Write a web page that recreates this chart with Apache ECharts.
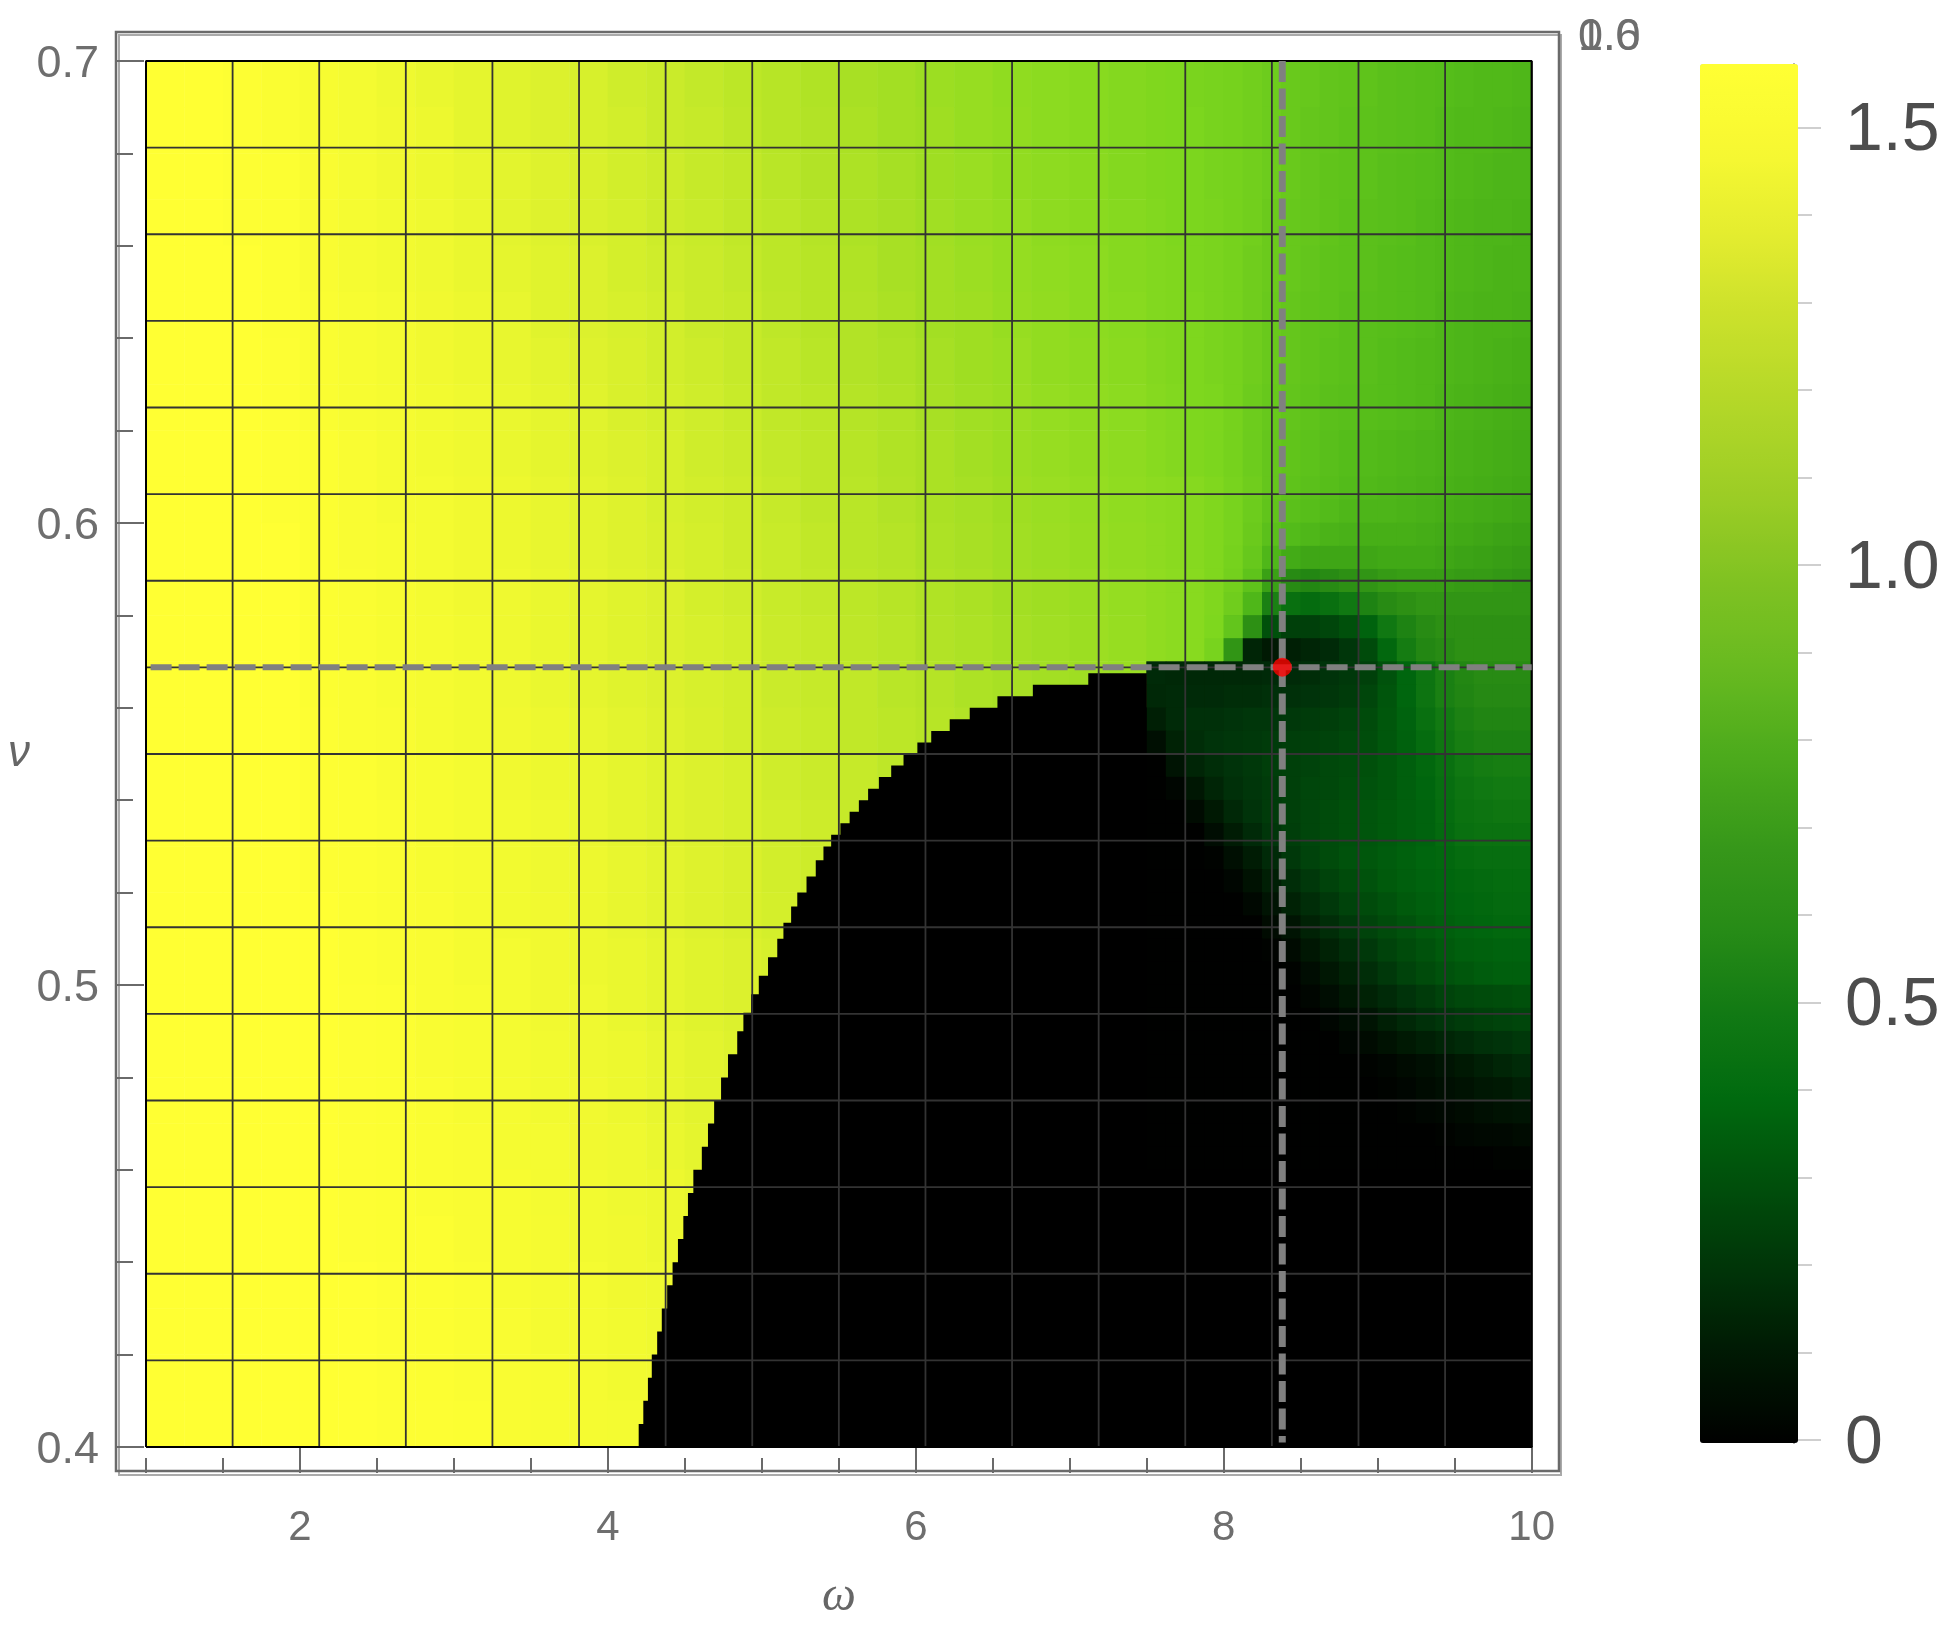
<!DOCTYPE html>
<html><head><meta charset="utf-8">
<style>html,body{margin:0;padding:0;background:#fff}#c{width:1941px;height:1625px}</style>
<script src="https://cdn.jsdelivr.net/npm/echarts@6/dist/echarts.min.js"></script>
</head><body><div id="c"></div>
<script>
// cell centres of the sampled field
const omegaCells = [1.125,1.375,1.625,1.875,2.125,2.375,2.625,2.875,3.125,3.375,3.625,3.875,4.125,4.375,4.625,4.875,5.125,5.375,5.625,5.875,6.125,6.375,6.625,6.875,7.125,7.375,7.625,7.875,8.125,8.375,8.625,8.875,9.125,9.375,9.625,9.875];
const nuCells = [0.695,0.685,0.675,0.665,0.655,0.645,0.635,0.625,0.615,0.605,0.595,0.585,0.575,0.565,0.555,0.545,0.535,0.525,0.515,0.505,0.495,0.485,0.475,0.465,0.455,0.445,0.435,0.425,0.415,0.405];
// field values x100, one row per nuCells entry (top to bottom)
const fieldRows = [
[157,157,156,154,152,150,147,145,143,141,139,137,134,132,129,126,124,121,118,116,113,111,108,106,104,102,99,97,94,91,88,86,84,82,79,77],
[157,157,156,154,152,150,148,146,143,141,139,137,135,132,130,127,124,122,119,116,114,111,109,106,104,102,99,97,94,90,87,85,83,81,78,76],
[157,157,156,155,153,151,148,146,144,142,140,138,135,133,130,128,125,122,120,117,114,112,109,107,105,102,100,97,94,90,87,84,82,80,77,75],
[157,157,156,155,153,151,149,147,145,142,140,138,136,133,131,128,126,123,120,118,115,112,110,107,105,103,100,97,93,89,86,83,81,79,76,74],
[157,157,157,155,153,151,149,147,145,143,141,139,136,134,132,129,126,124,121,118,116,113,110,108,106,103,101,98,93,89,85,82,80,78,75,73],
[157,157,157,155,154,152,150,148,146,144,141,139,137,135,132,130,127,124,122,119,116,114,111,109,106,104,102,98,93,88,84,81,79,77,74,72],
[157,157,157,156,154,152,150,148,146,144,142,140,138,135,133,130,128,125,122,120,117,114,112,109,107,105,103,99,93,88,84,80,78,76,73,71],
[157,157,157,156,154,152,151,149,147,145,143,141,138,136,134,131,128,126,123,121,118,115,113,110,108,106,104,99,93,87,83,80,77,75,72,70],
[157,157,157,156,155,153,151,149,147,145,143,141,139,137,134,132,129,127,124,121,119,116,113,111,109,107,104,100,94,87,83,79,77,74,72,70],
[157,157,157,156,155,153,151,150,148,146,144,142,140,137,135,133,130,127,125,122,119,117,114,112,110,108,105,101,95,86,80,77,75,73,71,69],
[157,157,157,157,155,153,152,150,148,146,144,142,140,138,136,133,131,128,125,123,120,118,115,113,111,109,106,102,96,75,66,67,68,70,68,66],
[157,157,157,157,155,154,152,150,148,147,145,143,141,139,136,134,131,129,126,124,121,119,116,114,112,110,107,104,98,42,42,50,60,63,64,63],
[157,157,157,157,155,154,152,151,149,147,145,143,141,139,137,135,132,130,127,125,122,120,117,115,113,111,108,100,62,14,22,32,46,56,60,62],
[157,157,157,157,155,154,152,151,149,147,145,143,141,139,137,135,132,130,128,125,123,120,118,116,114,112,16,16,16,16,18,26,40,52,58,58],
[157,157,157,157,156,154,153,151,149,148,146,144,142,140,138,135,133,131,128,126,124,122,120,118,0,4,14,18,20,22,25,30,38,46,52,54],
[157,157,157,157,156,155,153,152,150,148,146,145,143,141,139,137,134,132,130,127,125,123,0,0,0,0,6,14,18,22,26,30,36,42,48,50],
[157,157,157,157,156,155,154,152,150,149,147,145,143,141,139,137,135,133,130,128,126,0,0,0,0,0,2,8,14,20,26,30,34,38,42,44],
[157,157,157,157,156,155,154,152,151,149,147,146,144,142,140,138,135,133,131,129,0,0,0,0,0,0,0,3,8,15,22,28,33,36,40,42],
[157,157,157,157,157,155,154,153,151,149,148,146,144,142,140,138,136,134,132,0,0,0,0,0,0,0,0,0,3,8,14,22,30,34,38,40],
[157,157,157,157,157,155,154,153,151,150,148,146,145,143,141,139,137,135,133,0,0,0,0,0,0,0,0,0,0,2,8,14,22,28,33,36],
[157,157,157,157,157,156,155,153,152,150,148,147,145,143,141,139,137,135,0,0,0,0,0,0,0,0,0,0,0,0,2,7,14,20,26,30],
[157,157,157,157,157,156,155,153,152,150,149,147,146,144,142,140,138,136,0,0,0,0,0,0,0,0,0,0,0,0,0,1,6,12,18,22],
[157,157,157,157,157,156,155,154,152,151,149,148,146,144,142,140,138,0,0,0,0,0,0,0,0,0,0,0,0,0,0,0,0,4,9,14],
[157,157,157,157,157,156,155,154,153,151,150,148,147,145,143,141,139,0,0,0,0,0,0,0,0,0,0,0,0,0,0,0,0,0,0,4],
[157,157,157,157,157,156,155,154,153,152,150,149,147,146,144,142,140,0,0,0,0,0,0,0,0,0,0,0,0,0,0,0,0,0,0,0],
[157,157,157,157,157,156,155,155,153,152,151,149,148,146,144,142,0,0,0,0,0,0,0,0,0,0,0,0,0,0,0,0,0,0,0,0],
[157,157,157,157,157,157,156,155,154,152,151,150,148,147,145,143,0,0,0,0,0,0,0,0,0,0,0,0,0,0,0,0,0,0,0,0],
[157,157,157,157,157,157,156,155,154,153,151,150,149,147,145,143,0,0,0,0,0,0,0,0,0,0,0,0,0,0,0,0,0,0,0,0],
[157,157,157,157,157,157,156,155,154,153,152,151,149,148,146,144,0,0,0,0,0,0,0,0,0,0,0,0,0,0,0,0,0,0,0,0],
[157,157,157,157,157,157,156,156,155,153,152,151,150,148,146,144,0,0,0,0,0,0,0,0,0,0,0,0,0,0,0,0,0,0,0,0]
];
// finer reading of the right-hand part, omega 7.5..10
const omegaFine = [7.5625,7.6875,7.8125,7.9375,8.0625,8.1875,8.3125,8.4375,8.5625,8.6875,8.8125,8.9375,9.0625,9.1875,9.3125,9.4375,9.5625,9.6875,9.8125,9.9375];
const nuFineTop = [0.695,0.685,0.675,0.665,0.655,0.645,0.635,0.625,0.615];
const fineTopRows = [
[100,99,97,96,95,93,91,89,88,86,85,84,82,81,80,79,78,77,77,76],
[100,99,98,96,95,93,91,89,87,86,84,83,82,81,80,78,77,77,76,75],
[100,99,98,96,95,93,91,89,87,85,84,83,81,80,79,78,77,76,75,75],
[101,99,98,97,95,93,90,88,87,85,83,82,81,80,78,77,76,75,75,74],
[101,100,98,97,95,92,90,88,86,84,83,82,80,79,78,77,76,75,74,74],
[101,100,99,97,95,92,89,87,85,84,82,81,80,79,78,76,75,74,74,73],
[102,100,99,97,95,92,89,87,85,83,82,81,79,78,77,76,75,74,73,72],
[103,101,99,98,95,91,88,86,84,82,81,80,79,78,77,75,74,73,72,71],
[104,102,100,98,95,91,87,85,83,81,79,78,77,76,75,74,73,72,71,70]
];
const nuFineLow = [0.6075,0.6025,0.5975,0.5925,0.5875,0.5825,0.5775,0.5725,0.5675,0.5625,0.5575,0.5525,0.5475,0.5425,0.5375,0.5325,0.5275,0.5225,0.5175,0.5125,0.5075,0.5025,0.4975,0.4925,0.4875,0.4825,0.4775,0.4725,0.4675,0.4625];
const fineLowRows = [
[106,105,103,100,96,92,87,84,82,80,78,77,76,75,74,73,72,71,70,69],
[106,105,103,100,96,91,85,82,80,78,76,75,75,74,73,72,71,70,69,68],
[107,105,103,100,96,90,82,78,76,74,73,72,72,72,71,70,69,68,67,66],
[107,105,103,100,95,88,76,70,68,68,68,68,69,69,69,68,67,66,65,64],
[108,106,104,100,94,84,66,58,56,58,60,62,64,65,65,65,64,64,63,62],
[108,106,104,100,92,76,52,44,42,44,48,54,58,60,62,62,62,62,62,62],
[108,106,104,99,86,60,30,24,24,26,30,38,48,54,58,60,60,60,60,60],
[108,106,104,96,62,14,10,12,14,16,20,28,40,50,56,58,60,60,60,60],
[16,15,15,15,15,15,16,16,17,19,21,24,31,39,46,52,56,58,58,58],
[15,16,16,16,17,17,18,18,19,20,22,26,32,39,46,52,55,57,57,57],
[12,16,18,18,19,20,20,21,22,23,25,28,33,38,44,49,53,55,55,55],
[6,13,17,19,20,21,22,23,24,25,27,29,33,37,42,47,51,53,53,53],
[0,8,14,17,19,21,23,24,25,27,28,30,33,36,40,44,48,50,51,51],
[0,2,9,14,18,20,22,24,26,27,29,31,33,36,39,43,46,48,49,49],
[0,0,4,10,15,19,22,24,26,28,30,32,34,36,38,42,45,46,47,47],
[0,0,0,5,11,16,20,23,26,28,30,32,34,36,38,41,44,45,45,45],
[0,0,0,1,6,11,16,21,25,28,31,33,35,37,39,40,42,43,43,43],
[0,0,0,0,2,7,12,17,21,25,28,31,34,36,38,39,40,41,42,42],
[0,0,0,0,0,3,8,13,17,21,25,28,31,34,36,38,39,40,41,41],
[0,0,0,0,0,0,4,8,13,17,21,25,28,31,34,36,38,39,40,40],
[0,0,0,0,0,0,1,4,9,13,17,21,25,28,31,34,36,37,38,38],
[0,0,0,0,0,0,0,1,5,9,13,17,21,25,28,31,33,35,36,36],
[0,0,0,0,0,0,0,0,2,5,9,13,16,19,22,25,27,28,29,30],
[0,0,0,0,0,0,0,0,0,2,5,8,12,15,18,20,22,24,25,26],
[0,0,0,0,0,0,0,0,0,0,2,4,7,10,12,14,16,18,19,21],
[0,0,0,0,0,0,0,0,0,0,0,1,2,4,6,8,10,12,14,16],
[0,0,0,0,0,0,0,0,0,0,0,0,1,2,4,6,7,9,10,12],
[0,0,0,0,0,0,0,0,0,0,0,0,0,1,2,3,4,6,7,8],
[0,0,0,0,0,0,0,0,0,0,0,0,0,0,0,1,2,3,3,4],
[0,0,0,0,0,0,0,0,0,0,0,0,0,0,0,0,0,0,1,1]
];
// edge of the zero region
const zeroEdgeOmega = [4.17,4.2,4.23,4.26,4.285,4.32,4.35,4.385,4.42,4.455,4.49,4.52,4.555,4.61,4.65,4.69,4.735,4.78,4.84,4.88,4.93,4.98,5.04,5.1,5.14,5.19,5.23,5.29,5.35,5.4,5.45,5.51,5.57,5.63,5.69,5.76,5.84,5.92,6.01,6.1,6.22,6.35,6.53,6.76,7.12,7.5,10];
const zeroEdgeNu = [0.4,0.405,0.41,0.415,0.42,0.425,0.43,0.435,0.44,0.445,0.45,0.455,0.46,0.465,0.47,0.475,0.48,0.485,0.49,0.494,0.498,0.502,0.506,0.51,0.5135,0.517,0.52,0.5235,0.527,0.53,0.5325,0.535,0.5375,0.54,0.5425,0.545,0.5475,0.55,0.5525,0.555,0.5575,0.56,0.5625,0.565,0.5675,0.46,0.46];
// mesh lines
const meshOmega = [1,1.5625,2.125,2.6875,3.25,3.8125,4.375,4.9375,5.5,6.0625,6.625,7.1875,7.75,8.3125,8.875,9.4375,10];
const meshNu = [0.4,0.41875,0.4375,0.45625,0.475,0.49375,0.5125,0.53125,0.55,0.56875,0.5875,0.60625,0.625,0.64375,0.6625,0.68125,0.7];
// marked point
const pointOmega = 8.38;
const pointNu = 0.5688;
// ticks
const xMajor = [2,4,6,8,10];
const xMinor = [1,1.5,2.5,3,3.5,4.5,5,5.5,6.5,7,7.5,8.5,9,9.5];
const yMajor = [0.4,0.5,0.6,0.7];
const yMinor = [0.42,0.44,0.46,0.48,0.52,0.54,0.56,0.58,0.62,0.64,0.66,0.68];
const barMajor = [0,0.5,1,1.5];
const barMinor = [0.1,0.2,0.3,0.4,0.6,0.7,0.8,0.9,1.1,1.2,1.3,1.4];
const cornerLabels = ['0.6','1.0'];
const plotColors = ['#000000','#001803','#00340a','#004e0b','#00660e','#127a12','#2a8c14','#40a816','#54bc1a','#68c81c','#7cd61e','#90dc20','#a8e024','#c0e828','#d8f02c','#f0f930','#ffff33'];
const barColors = ['#000000','#001803','#003408','#004f0b','#006a0f','#127a14','#288c17','#38991a','#4dab1c','#68ba20','#80c222','#9ccd25','#b2d728','#c9e02b','#e3ec2f','#f7f832','#ffff33'];

const cells = (rows, nRows) => {
  const out = [];
  rows.forEach((row, r) => row.forEach((val, c) => out.push([c, nRows - 1 - r, val / 100])));
  return out;
};
const mesh = [];
meshOmega.forEach(w => { mesh.push([w, 0.4], [w, 0.7], [null, null]); });
meshNu.forEach(n => { mesh.push([1, n], [10, n], [null, null]); });
const border = [[1,0.4],[1,0.7],[10,0.7],[10,0.4],[1,0.4]];
const zeroEdge = zeroEdgeOmega.map((w, i) => [w, zeroEdgeNu[i]]);

const FONT = '"Liberation Sans", Arial, sans-serif';
const tickGrey = '#6a6a6a';
const hiddenCat = (gridIndex, data) => ({type:'category', gridIndex, data, show:false});
const hiddenVal = gridIndex => ({type:'value', gridIndex, show:false});
const rect = {left:146, top:61, width:1385.7, height:1386, outerBoundsMode:'none'};
// sub-rects of the plot rect for the finer readings
const pxW = rect.width / 9, pxV = rect.height / 0.3;
const fineLeft = rect.left + 6.5 * pxW, fineWidth = 2.5 * pxW;

const chart = echarts.init(document.getElementById('c'), null, {renderer:'canvas'});
chart.setOption({
  animation:false,
  backgroundColor:'#ffffff',
  grid:[
    Object.assign({}, rect),
    Object.assign({}, rect),
    {left:119, top:35, width:1442, height:1440, show:true, borderColor:'#aaaaaa', borderWidth:2, backgroundColor:'transparent', outerBoundsMode:'none'},
    {left:116, top:32, width:1443, height:1439, show:true, borderColor:'#6a6a6a', borderWidth:2.5, backgroundColor:'transparent', outerBoundsMode:'none'},
    {left:1794, top:64, width:2, height:1379, outerBoundsMode:'none'},
    {left:fineLeft, width:fineWidth, top:rect.top, height:0.09 * pxV, outerBoundsMode:'none'},
    {left:fineLeft, width:fineWidth, top:rect.top + 0.09 * pxV, height:0.15 * pxV, outerBoundsMode:'none'}
  ],
  xAxis:[
    hiddenCat(0, omegaCells),
    {type:'value', gridIndex:1, min:1, max:10, position:'bottom', offset:26, name:'ω', nameLocation:'middle', nameGap:100,
     nameTextStyle:{fontFamily:'"Liberation Serif", serif', fontStyle:'italic', fontSize:48, color:'#666666'},
     axisLine:{show:false}, splitLine:{show:false},
     axisTick:{show:true, inside:true, length:27, customValues:xMajor, lineStyle:{color:tickGrey, width:2}},
     axisLabel:{show:true, customValues:xMajor, margin:34, fontFamily:FONT, fontSize:42, color:'#6e6e6e'}},
    {type:'value', gridIndex:1, min:1, max:10, position:'bottom', offset:26,
     axisLine:{show:false}, splitLine:{show:false}, axisLabel:{show:false},
     axisTick:{show:true, inside:true, length:15, customValues:xMinor, lineStyle:{color:tickGrey, width:2}}},
    hiddenVal(2), hiddenVal(3), hiddenVal(4),
    hiddenCat(5, omegaFine), hiddenCat(6, omegaFine)
  ],
  yAxis:[
    hiddenCat(0, nuCells.slice().reverse()),
    {type:'value', gridIndex:1, min:0.4, max:0.7, position:'left', offset:30, name:'ν', nameLocation:'middle', nameGap:86, nameRotate:0,
     nameTextStyle:{fontFamily:FONT, fontStyle:'italic', fontSize:44, color:'#666666'},
     axisLine:{show:false}, splitLine:{show:false},
     axisTick:{show:true, inside:true, length:28, customValues:yMajor, lineStyle:{color:tickGrey, width:2}},
     axisLabel:{show:true, customValues:yMajor, margin:17, formatter:v => '{t|' + v.toFixed(1) + '}',
       rich:{t:{padding:[7,0,0,0], fontFamily:FONT, fontSize:45, color:'#6e6e6e'}}}},
    {type:'value', gridIndex:1, min:0.4, max:0.7, position:'left', offset:30,
     axisLine:{show:false}, splitLine:{show:false}, axisLabel:{show:false},
     axisTick:{show:true, inside:true, length:17, customValues:yMinor, lineStyle:{color:tickGrey, width:2}}},
    hiddenVal(2), hiddenVal(3),
    {type:'value', gridIndex:4, min:-0.0034, max:1.5726, position:'right',
     axisLine:{show:true, lineStyle:{color:'rgba(0,0,0,0.4)', width:2}}, splitLine:{show:false},
     axisTick:{show:true, length:27, customValues:barMajor, lineStyle:{color:'#cfcfcf', width:2}},
     axisLabel:{show:true, customValues:barMajor, margin:49, formatter:v => '{t|' + (v === 0 ? '0' : v.toFixed(1)) + '}',
       rich:{t:{padding:[8,0,0,0], fontFamily:FONT, fontSize:68, color:'#4d4d4d'}}}},
    {type:'value', gridIndex:4, min:-0.0034, max:1.5726, position:'right',
     axisLine:{show:false}, splitLine:{show:false}, axisLabel:{show:false},
     axisTick:{show:true, length:16, customValues:barMinor, lineStyle:{color:'#cfcfcf', width:2}}},
    hiddenCat(5, nuFineTop.slice().reverse()), hiddenCat(6, nuFineLow.slice().reverse())
  ],
  visualMap:[
    {type:'continuous', show:false, min:-0.0035, max:1.5725, seriesIndex:[0,1,2], inRange:{color:plotColors}},
    {type:'continuous', show:true, min:-0.0035, max:1.5725, seriesIndex:[], left:1700, top:64, itemWidth:98, itemHeight:1379, padding:0, text:null, calculable:false, hoverLink:false, inRange:{color:barColors}}
  ],
  series:[
    {name:'field', type:'heatmap', xAxisIndex:0, yAxisIndex:0, data:cells(fieldRows, nuCells.length), z:1, progressive:0, silent:true, itemStyle:{borderWidth:0}},
    {name:'field fine top', type:'heatmap', xAxisIndex:6, yAxisIndex:7, data:cells(fineTopRows, nuFineTop.length), z:1, progressive:0, silent:true, itemStyle:{borderWidth:0}},
    {name:'field fine low', type:'heatmap', xAxisIndex:7, yAxisIndex:8, data:cells(fineLowRows, nuFineLow.length), z:1, progressive:0, silent:true, itemStyle:{borderWidth:0}},
    {name:'zero region', type:'line', xAxisIndex:1, yAxisIndex:1, data:zeroEdge, step:'end', showSymbol:false, z:2, silent:true,
     lineStyle:{width:0, color:'#000'}, areaStyle:{color:'#000000', opacity:1, origin:'start'}},
    {name:'mesh', type:'line', xAxisIndex:1, yAxisIndex:1, data:mesh, showSymbol:false, connectNulls:false, clip:false, z:3, silent:true,
     lineStyle:{color:'#333333', width:1.8}},
    {name:'border', type:'line', xAxisIndex:1, yAxisIndex:1, data:border, showSymbol:false, clip:false, z:3, silent:true,
     lineStyle:{color:'#000000', width:2}},
    {name:'nu marker', type:'line', xAxisIndex:1, yAxisIndex:1, data:[[1.03,pointNu],[10,pointNu]], showSymbol:false, z:4, silent:true,
     lineStyle:{color:'#808080', width:6, type:[21,7]}},
    {name:'omega marker', type:'line', xAxisIndex:1, yAxisIndex:1, data:[[pointOmega,0.7],[pointOmega,0.401]], showSymbol:false, z:4, silent:true,
     lineStyle:{color:'#808080', width:7, type:[21,6.5]}},
    {name:'point', type:'scatter', xAxisIndex:1, yAxisIndex:1, data:[[pointOmega,pointNu]], symbolSize:19, z:5, silent:true, itemStyle:{color:'#ff0000'}}
  ],
  graphic:cornerLabels.map(t => ({type:'text', left:1578, top:15, silent:true, style:{text:t, fontFamily:FONT, fontSize:45, fill:'#6e6e6e'}}))
});
</script></body></html>
